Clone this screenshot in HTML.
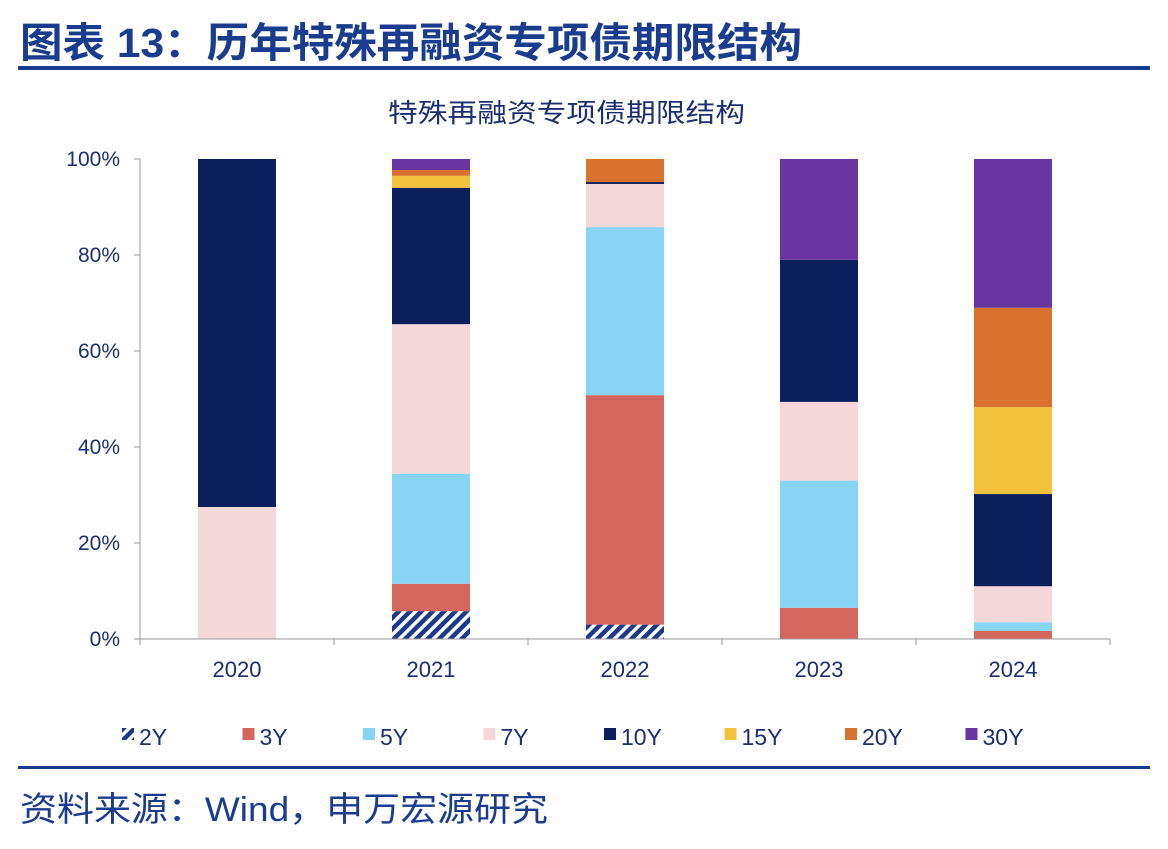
<!DOCTYPE html>
<html><head><meta charset="utf-8"><style>
body{margin:0;width:1168px;height:844px;background:#fff;overflow:hidden;font-family:"Liberation Sans","Noto Sans CJK SC",sans-serif;}
</style></head><body>
<svg width="1168" height="844" xmlns="http://www.w3.org/2000/svg">
<defs><pattern id="hatch" width="8" height="8" patternUnits="userSpaceOnUse" patternTransform="rotate(45)"><rect width="8" height="8" fill="#fff"/><rect width="4.5" height="8" fill="#1b3a8c"/></pattern></defs>
<text x="20" y="57" font-size="41" font-weight="bold" fill="#1a3c8f" textLength="782" lengthAdjust="spacingAndGlyphs">图表 13：历年特殊再融资专项债期限结构</text>
<rect x="18" y="66" width="1132" height="4" fill="#1a3c8f"/>
<text x="388" y="122" font-size="26" fill="#1a2f70" textLength="357" lengthAdjust="spacingAndGlyphs">特殊再融资专项债期限结构</text>
<g id="plot"></g>
<rect x="18" y="766" width="1132" height="3" fill="#1a3c8f"/>
<text x="20" y="821" font-size="34" fill="#1a3c8f" textLength="528" lengthAdjust="spacingAndGlyphs">资料来源：Wind，申万宏源研究</text>
</svg>
<script>
const categories=["2020","2021","2022","2023","2024"];
const seriesNames=["2Y","3Y","5Y","7Y","10Y","15Y","20Y","30Y"];
const s2Y=[0,5.8,3,0,0];
const s3Y=[0,5.7,47.8,6.5,1.7];
const s5Y=[0,22.9,35,26.5,1.8];
const s7Y=[27.5,31.2,9,16.4,7.5];
const s10Y=[72.5,28.4,0.4,29.6,19.2];
const s15Y=[0,2.5,0,0,18.1];
const s20Y=[0,1.2,4.8,0,20.7];
const s30Y=[0,2.3,0,21,31];
const yTicks=[0,20,40,60,80,100];
const series=[s2Y,s3Y,s5Y,s7Y,s10Y,s15Y,s20Y,s30Y];
const colors=["url(#hatch)","#d4665e","#87d4f5","#f3d7d9","#0b1f5c","#f2c23c","#d9722e","#6a35a0"];
const NS="http://www.w3.org/2000/svg";
const g=document.getElementById('plot');
const x0=140,x1=1110,yb=639,yt=159;
const y=v=>yb-(yb-yt)*v/100;
const band=(x1-x0)/categories.length;
const xc=i=>x0+band*(i+0.5);
const bw=78;
function el(t,a){const e=document.createElementNS(NS,t);for(const k in a)e.setAttribute(k,a[k]);g.appendChild(e);return e;}
yTicks.forEach(t=>{const tx=el('text',{x:120,y:y(t)+7,'font-size':21,'text-anchor':'end',fill:'#1a2f70'});tx.textContent=t+'%';


const tk=el('line',{x1:x0-6,x2:x0,y1:y(t),y2:y(t),stroke:'#999'});

});
categories.forEach((c,i)=>{let acc=0;
series.forEach((s,j)=>{const v=s[i];if(v>0){const r=el('rect',{x:xc(i)-bw/2,y:y(acc+v),width:bw,height:y(acc)-y(acc+v),fill:colors[j]});

}acc+=v;});
const t=el('text',{x:xc(i),y:677,'font-size':22,'text-anchor':'middle',fill:'#1a2f70'});t.textContent=c;


const tk=el('line',{x1:x0+band*(i+1),x2:x0+band*(i+1),y1:yb,y2:yb+6,stroke:'#999'});

});
const ax=el('line',{x1:x0,x2:x1,y1:yb,y2:yb,stroke:'#999'});


const ay=el('line',{x1:x0,x2:x0,y1:yt,y2:yb+6,stroke:'#999'});


seriesNames.forEach((n,j)=>{const lx=122+j*120.5;
const sw=el('rect',{x:lx,y:728,width:12,height:12,fill:colors[j]});


const t=el('text',{x:lx+17,y:745,'font-size':23,fill:'#1a2f70'});t.textContent=n;

});
</script>
</body></html>
